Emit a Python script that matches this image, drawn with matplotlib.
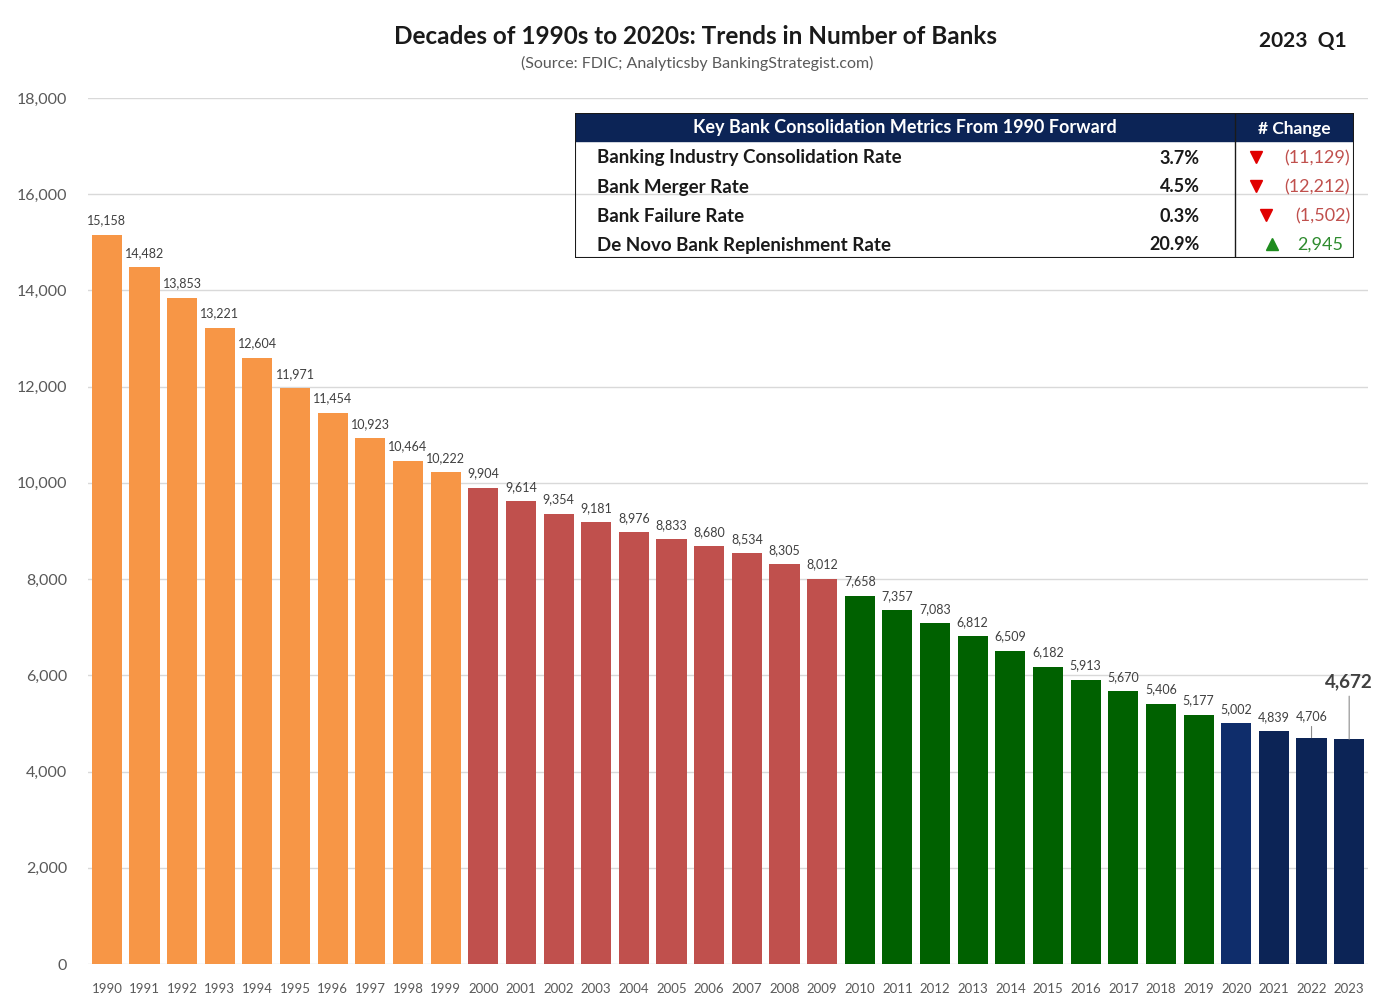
import matplotlib.pyplot as plt
from matplotlib.patches import Rectangle

# data
years = list(range(1990, 2024))
banks = [15158, 14482, 13853, 13221, 12604, 11971, 11454, 10923, 10464, 10222,
         9904, 9614, 9354, 9181, 8976, 8833, 8680, 8534, 8305, 8012,
         7658, 7357, 7083, 6812, 6509, 6182, 5913, 5670, 5406, 5177,
         5002, 4839, 4706, 4672]
decade_colors = {1990: '#F79646', 2000: '#C0504D', 2010: '#006100', 2020: '#0C2456'}

metric_names = ['Banking Industry Consolidation Rate', 'Bank Merger Rate',
                'Bank Failure Rate', 'De Novo Bank Replenishment Rate']
metric_rates = ['3.7%', '4.5%', '0.3%', '20.9%']
metric_changes = ['(11,129)', '(12,212)', '(1,502)', '2,945']
metric_up = [False, False, False, True]

plt.rcParams['font.family'] = ['Lato', 'DejaVu Sans']

fig = plt.figure(figsize=(13.89, 10.06), dpi=100)
ax = fig.add_axes([88 / 1389, 42 / 1006, 1280 / 1389, 866 / 1006])

x = list(range(len(years)))
colors = [decade_colors[(y // 10) * 10] for y in years]
colors[years.index(2020)] = '#0F2D6B'
ax.bar(x, banks, width=0.8, color=colors, zorder=2)

for i, v in enumerate(banks):
    yr = years[i]
    if yr == 2023:
        ax.annotate(f'{v:,}', xy=(i, v), xytext=(0, 35), textcoords='offset points',
                    ha='center', va='bottom', fontsize=13.5, fontweight='bold', color='#404040',
                    arrowprops=dict(arrowstyle='-', color='#8c8c8c', lw=0.8, shrinkA=2, shrinkB=0))
    elif yr == 2022:
        ax.annotate(f'{v:,}', xy=(i, v), xytext=(0, 11), textcoords='offset points',
                    ha='center', va='bottom', fontsize=9, color='#404040',
                    arrowprops=dict(arrowstyle='-', color='#8c8c8c', lw=0.8, shrinkA=1, shrinkB=0))
    else:
        ax.annotate(f'{v:,}', xy=(i, v), xytext=(0, 6), textcoords='offset points',
                    ha='center', va='bottom', fontsize=9, color='#404040')

ax.set_xlim(-0.5, len(years) - 0.5)
ax.set_ylim(0, 18000)
ax.set_yticks(range(0, 18001, 2000))
ax.set_yticklabels([f'{t:,}' for t in range(0, 18001, 2000)], fontsize=11.5, color='#595959')
ax.set_xticks(x)
ax.set_xticklabels([str(y) for y in years], fontsize=9.5, color='#595959')
ax.tick_params(axis='both', length=0)
ax.tick_params(axis='y', pad=15)
ax.tick_params(axis='x', pad=14)
ax.grid(axis='y', color='#d9d9d9', lw=1, zorder=0)
for s in ax.spines.values():
    s.set_visible(False)

fig.text(695 / 1389, 1 - 36 / 1006, 'Decades of 1990s to 2020s: Trends in Number of Banks',
         ha='center', va='center', fontsize=17.5, fontweight='bold', color='#1a1a1a')
fig.text(697 / 1389, 1 - 63 / 1006, '(Source: FDIC; Analyticsby BankingStrategist.com)',
         ha='center', va='center', fontsize=11.5, color='#595959')
fig.text(1303 / 1389, 1 - 41 / 1006, '2023  Q1', ha='center', va='center',
         fontsize=15, fontweight='bold', color='#1a1a1a')

# metrics table
tx0, ty0, tw, th = 575, 113, 779, 145
tab = fig.add_axes([tx0 / 1389, 1 - (ty0 + th) / 1006, tw / 1389, th / 1006])
tab.set_xlim(tx0, tx0 + tw)
tab.set_ylim(ty0 + th, ty0)
tab.axis('off')
tab.add_patch(Rectangle((tx0, ty0), tw, 28, color='#0C2456', zorder=1))
tab.add_patch(Rectangle((tx0, ty0), tw, th, fill=False, ec='#1a1a1a', lw=1.5, zorder=3))
tab.plot([1235, 1235], [ty0, ty0 + th], color='#1a1a1a', lw=1, zorder=3)
tab.text(905, ty0 + 14, 'Key Bank Consolidation Metrics From 1990 Forward', ha='center', va='center',
         fontsize=13, fontweight='bold', color='white')
tab.text(1294, ty0 + 16, '# Change', ha='center', va='center',
         fontsize=12.5, fontweight='bold', color='white')
for k in range(len(metric_names)):
    yy = 158 + k * 29
    tab.text(597, yy, metric_names[k], ha='left', va='center', fontsize=13.5, fontweight='bold', color='#1a1a1a')
    tab.text(1200, yy, metric_rates[k], ha='right', va='center', fontsize=13, fontweight='bold', color='#1a1a1a')
    if metric_up[k]:
        tab.plot(1272, yy - 1, marker='^', color='#1E8C1E', markersize=9)
        tab.text(1343, yy, metric_changes[k], ha='right', va='center', fontsize=13, color='#2E8B2E')
    else:
        mx = 1256 if len(metric_changes[k]) > 7 else 1266
        tab.plot(mx, yy - 1, marker='v', color='#E00000', markersize=9)
        tab.text(1350, yy, metric_changes[k], ha='right', va='center', fontsize=13, color='#C0504D')

fig.savefig('out.png', dpi=100)
